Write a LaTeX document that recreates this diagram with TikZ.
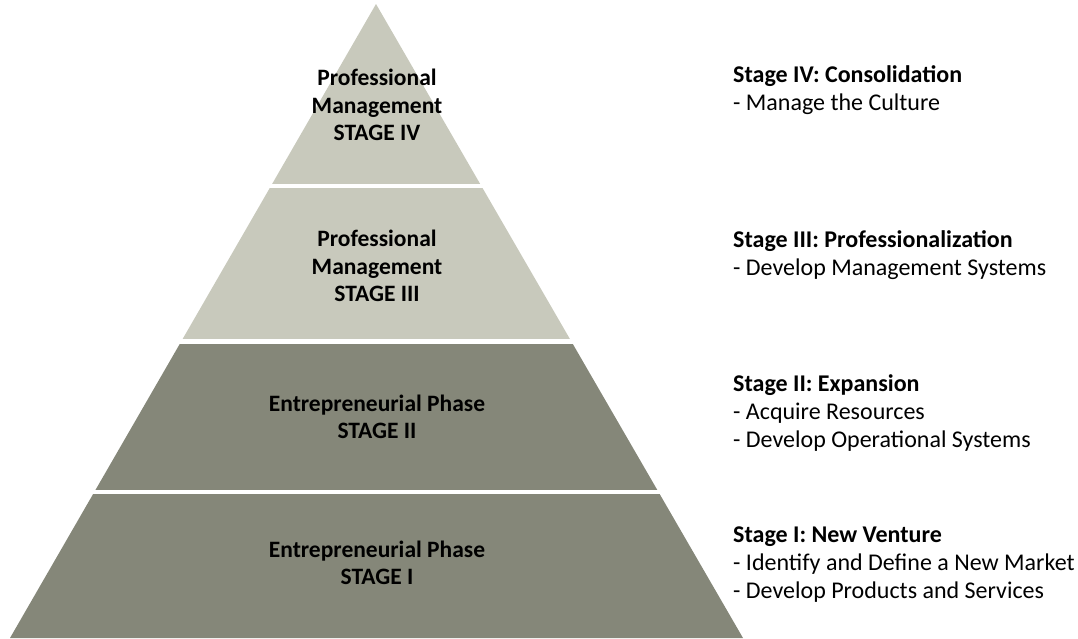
\documentclass[tikz,border=0pt]{standalone}
\usepackage{fontspec}
\setmainfont{Carlito}
\usepackage{tikz}
\usetikzlibrary{positioning, calc}

\definecolor{lightband}{RGB}{200,201,188}
\definecolor{darkband}{RGB}{133,135,121}

\begin{document}
\begin{tikzpicture}[
    x=1pt, y=-1pt,
    stagelabel/.style={font=\fontsize{23.5}{27.5}\selectfont\bfseries, align=center, text=black},
    stagenote/.style={font=\fontsize{24}{28}\selectfont, align=left, anchor=west, inner sep=0pt}
]
    \useasboundingbox (0, 0) rectangle (1078, 638);

    % === Pyramid ===
    \coordinate (apex) at (376, 4);
    \coordinate (baseL) at (10, 638);
    \coordinate (baseR) at (743, 638);

    \begin{scope}
        \clip (apex) -- (baseL) -- (baseR) -- cycle;
        % Professional management bands
        \fill[lightband] (0, 0) rectangle (1078, 184);
        \fill[lightband] (0, 188) rectangle (1078, 339);
        % Entrepreneurial bands
        \fill[darkband] (0, 344) rectangle (1078, 490);
        \fill[darkband] (0, 494) rectangle (1078, 640);
    \end{scope}

    % Band labels
    \node[stagelabel] (lab4) at (377, 105) {Professional\\Management\\STAGE IV};
    \node[stagelabel] (lab3) at (377, 266) {Professional\\Management\\STAGE III};
    \node[stagelabel] (lab2) at (377, 417) {Entrepreneurial Phase\\STAGE II};
    \node[stagelabel] (lab1) at (377, 563) {Entrepreneurial Phase\\STAGE I};

    % === Stage descriptions ===
    \node[stagenote] (desc4) at (733, 90) {\textbf{Stage IV: Consolidation}\\- Manage the Culture};
    \node[stagenote] (desc3) at (733, 255) {\textbf{Stage III: Professionalization}\\- Develop Management Systems};
    \node[stagenote] (desc2) at (733, 413) {\textbf{Stage II: Expansion}\\- Acquire Resources\\- Develop Operational Systems};
    \node[stagenote] (desc1) at (733, 565) {\textbf{Stage I: New Venture}\\- Identify and Define a New Market\\- Develop Products and Services};

\end{tikzpicture}
\end{document}
